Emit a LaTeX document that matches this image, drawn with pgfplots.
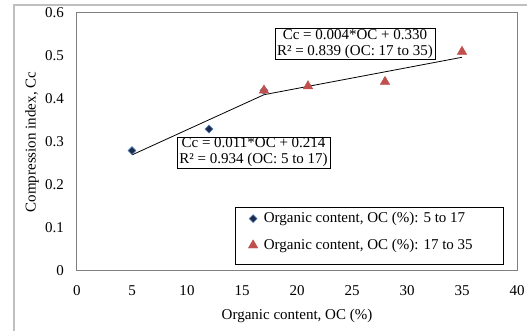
\documentclass[border=0pt]{standalone}
\usepackage{fontspec}
\setmainfont{Liberation Serif}
\usepackage{pgfplots}
\pgfplotsset{compat=1.18}
\definecolor{navy}{HTML}{1F2A4A}
\definecolor{mblue}{HTML}{4F81BD}
\definecolor{mred}{HTML}{C0504D}
\begin{document}
\fontsize{15}{18}\selectfont
\begin{tikzpicture}
\path[use as bounding box] (0pt,0pt) rectangle (527pt,331pt);
\draw[black!25, line width=1.2pt] (14pt,0pt) -- (14pt,326pt) -- (527pt,326pt);
\begin{axis}[
  at={(77pt,60pt)}, anchor=south west,
  scale only axis, width=440pt, height=258pt,
  xmin=0, xmax=40, ymin=0, ymax=0.6,
  xtick={0,5,10,15,20,25,30,35,40},
  ytick={0,0.1,0.2,0.3,0.4,0.5,0.6},
  yticklabels={0,0.1,0.2,0.3,0.4,0.5,0.6},
  major tick length=0pt,
  axis line style={draw=black!50, line width=1pt},
  /pgf/number format/assume math mode=true,
  tick label style={font=\fontsize{15}{18}\selectfont},
  xticklabel style={anchor=center, yshift=-20pt, inner sep=0pt},
  yticklabel style={anchor=east, xshift=-13pt, inner sep=0pt},
  xlabel={Organic content, OC (\%)},
  ylabel={Compression index, Cc},
  label style={font=\fontsize{15}{18}\selectfont},
  xlabel style={at={(axis description cs:0.5,-0.173)}, anchor=center},
  ylabel style={at={(axis description cs:-0.1023,0.5)}, anchor=center},
  legend style={at={(0.968,0.236)}, anchor=north east, draw=none, fill=none,
    font=\fontsize{15}{18}\selectfont, inner xsep=11pt, inner ysep=0pt, row sep=10pt},
  legend cell align=left,
  clip=false,
]
\draw[black, fill=white, line width=0.8pt] (axis cs:14.36,0.0163) rectangle (axis cs:38.73,0.1488);
\addplot[black, line width=0.8pt, mark=none, forget plot] coordinates {(5,0.27) (17,0.41)};
\addplot[black, line width=0.8pt, mark=none, forget plot] coordinates {(17,0.41) (35,0.497)};
\addplot[only marks, mark=square*, mark size=2.8pt, mark options={rotate=45, fill=navy, draw=mblue, line width=0.6pt}]
  coordinates {(5,0.28) (12,0.33) (17,0.42)};
\addlegendentry{\hspace*{4pt}Organic content, OC (\%): 5 to 17\hspace*{17pt}}
\addplot[only marks, mark=triangle*, mark size=5.5pt, mark options={fill=mred, draw=mred}]
  coordinates {(17,0.42) (21,0.43) (28,0.44) (35,0.51)};
\addlegendentry{\hspace*{4pt}Organic content, OC (\%): 17 to 35\hspace*{17pt}}
\node[draw=black, fill=white, align=center, inner xsep=2pt, inner ysep=1pt,
  font=\fontsize{15}{16}\selectfont] at (axis cs:16.05,0.2756)
  {Cc = 0.011*OC + 0.214\\R² = 0.934 (OC: 5 to 17)};
\node[draw=black, fill=white, align=center, inner xsep=2pt, inner ysep=1pt,
  font=\fontsize{15}{16}\selectfont] at (axis cs:25.27,0.528)
  {Cc = 0.004*OC + 0.330\\R² = 0.839 (OC: 17 to 35)};
\end{axis}
\end{tikzpicture}
\end{document}
